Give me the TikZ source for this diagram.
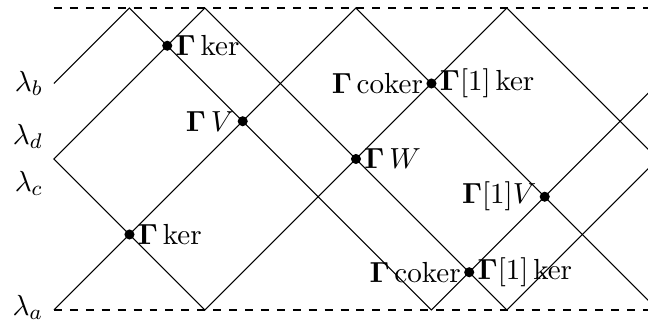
\documentclass[11pt,tikz,border=0pt]{standalone}
\usepackage{amsmath}
\DeclareMathOperator{\cokerop}{coker}
\begin{document}
\begin{tikzpicture}[
  dot/.style={circle,fill,inner sep=0pt,minimum size=3.8pt},
  wire/.style={line width=0.4pt},
  lab/.style={inner sep=3pt}
]
\useasboundingbox (-0.715,-0.185) rectangle (7.868,4.106);
\clip (-0.715,-0.185) rectangle (7.868,4.106);
% vertices
\coordinate (a0) at (0,3);
\coordinate (a1) at (1,4);
\coordinate (a2) at (5,0);
\coordinate (a3) at (8,3);
\coordinate (d0) at (0,2);
\coordinate (d1) at (2,4);
\coordinate (d2) at (6,0);
\coordinate (d3) at (8,2);
\coordinate (c1) at (2,0);
\coordinate (c2) at (6,4);
\coordinate (c3) at (8,2);
\coordinate (o0) at (0,0);
\coordinate (o1) at (4,4);
\coordinate (o2) at (8,0);
\coordinate (t0) at (0,4);
\coordinate (t1) at (8,4);
\coordinate (b1) at (8,0);
% dashed boundaries
\draw[dashed] (t0) -- (t1);
\draw[dashed] (o0) -- (b1);
% lines
\draw[wire] (a0) -- (a1) -- (a2) -- (a3);
\draw[wire] (d1) -- (d0) -- (c1) -- (c2) -- (c3);
\draw[wire] (d1) -- (d2) -- (d3);
\draw[wire] (o0) -- (o1) -- (o2);
% left labels
\node[left,inner sep=4pt] (lb) at (a0) {$\lambda_b$};
\node[left,inner sep=4pt] (ld) at (0,2.3) {$\lambda_d$};
\node[left,inner sep=4pt] (lc) at (0,1.68) {$\lambda_c$};
\node[left,inner sep=4pt] (la) at (0,0.03) {$\lambda_a$};
% dots
\node[dot] (p1) at (1.5,3.5) {};
\node[dot] (p2) at (2.5,2.5) {};
\node[dot] (p3) at (4,2) {};
\node[dot] (p4) at (1,1) {};
\node[dot] (p5) at (5,3) {};
\node[dot] (p6) at (6.5,1.5) {};
\node[dot] (p7) at (5.5,0.5) {};
% dot labels
\node[lab,anchor=west] (q1) at (p1.center) {$\mathbf{\Gamma}\ker$};
\node[lab,anchor=east] (q2) at (p2.center) {$\mathbf{\Gamma}\,V$};
\node[lab,anchor=west] (q3) at (p3.center) {$\mathbf{\Gamma}\,W$};
\node[lab,anchor=west] (q4) at (p4.center) {$\mathbf{\Gamma}\ker$};
\node[lab,anchor=east] (q5l) at (p5.center) {$\mathbf{\Gamma}\cokerop$};
\node[lab,anchor=west] (q5r) at (p5.center) {$\mathbf{\Gamma}[1]\ker$};
\node[lab,anchor=east] (q6) at (p6.center) {$\mathbf{\Gamma}[1]V$};
\node[lab,anchor=east] (q7l) at (p7.center) {$\mathbf{\Gamma}\cokerop$};
\node[lab,anchor=west] (q7r) at (p7.center) {$\mathbf{\Gamma}[1]\ker$};
\end{tikzpicture}
\end{document}
